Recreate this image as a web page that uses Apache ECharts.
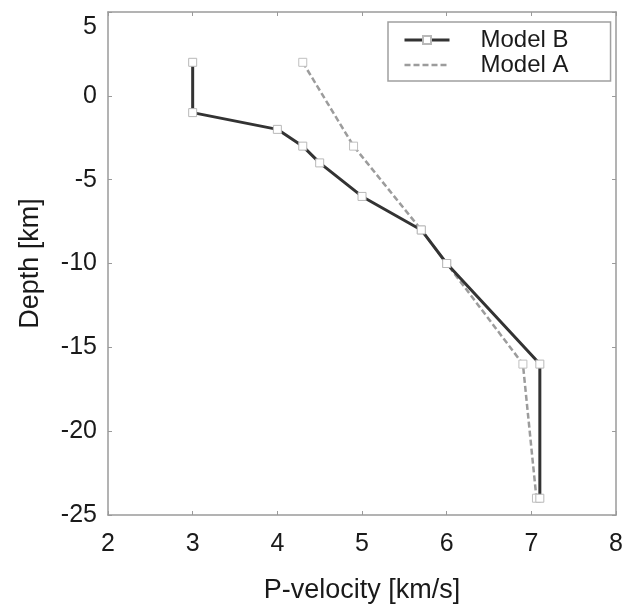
<!DOCTYPE html>
<html>
<head>
<meta charset="utf-8">
<script src="https://cdn.jsdelivr.net/npm/echarts@6/dist/echarts.min.js"></script>
<style>html,body{margin:0;padding:0;background:#fff;}#c{width:626px;height:610px;}</style>
</head>
<body>
<div id="c"></div>
<script>
const seriesNames = ['Model B', 'Model A'];
const modelBVelocity = [3, 3, 4, 4.3, 4.5, 5, 5.7, 6, 7.1, 7.1];
const modelBDepth = [2, -1, -2, -3, -4, -6, -8, -10, -16, -24];
const modelAVelocity = [4.3, 4.9, 5.7, 6, 6.9, 7.06];
const modelADepth = [2, -3, -8, -10, -16, -24];
const xTicks = [2, 3, 4, 5, 6, 7, 8];
const yTicks = [5, 0, -5, -10, -15, -20, -25];

const pairs = (xs, ys) => xs.map((x, i) => [x, ys[i]]);
const font = 'Liberation Sans, Arial, sans-serif';
const axisGray = '#9a9a9a';
const textColor = '#1a1a1a';

const chart = echarts.init(document.getElementById('c'));
const baseX = {
  type: 'value', min: xTicks[0], max: xTicks[xTicks.length - 1], interval: 1,
  axisLine: { show: true, onZero: false, lineStyle: { color: axisGray, width: 1.5 } },
  axisTick: { show: true, inside: true, length: 4, lineStyle: { color: axisGray } },
  splitLine: { show: false }
};
const baseY = {
  type: 'value', min: yTicks[yTicks.length - 1], max: yTicks[0], interval: 5,
  axisLine: { show: true, onZero: false, lineStyle: { color: axisGray, width: 1.5 } },
  axisTick: { show: true, inside: true, length: 4, lineStyle: { color: axisGray } },
  splitLine: { show: false }
};
chart.setOption({
  animation: false,
  backgroundColor: '#fff',
  grid: { left: 108, right: 9, top: 12, bottom: 95 },
  legend: {
    left: 388, top: 22, orient: 'vertical',
    itemWidth: 45, itemHeight: 10, itemGap: 1,
    padding: [6, 42, 4, 15],
    borderColor: '#a0a0a0', borderWidth: 1.5,
    textStyle: { fontFamily: font, fontSize: 24, color: textColor, padding: [0, 0, 0, 26] },
    data: [
      { name: seriesNames[0], lineStyle: { width: 3, color: '#333' } },
      { name: seriesNames[1], itemStyle: { opacity: 0 }, lineStyle: { width: 2.5, color: '#9c9c9c' } }
    ]
  },
  xAxis: [
    Object.assign({}, baseX, {
      position: 'bottom',
      name: 'P-velocity [km/s]', nameLocation: 'middle', nameGap: 62,
      nameTextStyle: { fontFamily: font, fontSize: 27, color: textColor },
      axisLabel: { fontFamily: font, fontSize: 25, color: textColor, margin: 17 }
    }),
    Object.assign({}, baseX, { position: 'top', axisLabel: { show: false } })
  ],
  yAxis: [
    Object.assign({}, baseY, {
      position: 'left',
      name: 'Depth [km]', nameLocation: 'middle', nameGap: 64, nameRotate: 90,
      nameTextStyle: { fontFamily: font, fontSize: 27, color: textColor },
      axisLabel: {
        fontFamily: font, fontSize: 25, color: textColor, margin: 11,
        formatter: v => (v === yTicks[0] ? '{top|' + v + '}' : String(v)),
        rich: { top: { fontFamily: font, fontSize: 25, color: textColor, padding: [30, 0, 0, 0] } }
      }
    }),
    Object.assign({}, baseY, { position: 'right', axisLabel: { show: false } })
  ],
  series: [
    {
      name: seriesNames[0], type: 'line', data: pairs(modelBVelocity, modelBDepth),
      symbol: 'rect', symbolSize: 8, showAllSymbol: true,
      lineStyle: { color: '#333', width: 3 },
      itemStyle: { color: '#fff', borderColor: '#b8b8b8', borderWidth: 1 },
      z: 3
    },
    {
      name: seriesNames[1], type: 'line', data: pairs(modelAVelocity, modelADepth),
      symbol: 'rect', symbolSize: 8, showAllSymbol: true,
      lineStyle: { color: '#9c9c9c', width: 2.5, type: [6, 3] },
      itemStyle: { color: '#fff', borderColor: '#c0c0c0', borderWidth: 1 },
      z: 2
    }
  ]
});
</script>
</body>
</html>
